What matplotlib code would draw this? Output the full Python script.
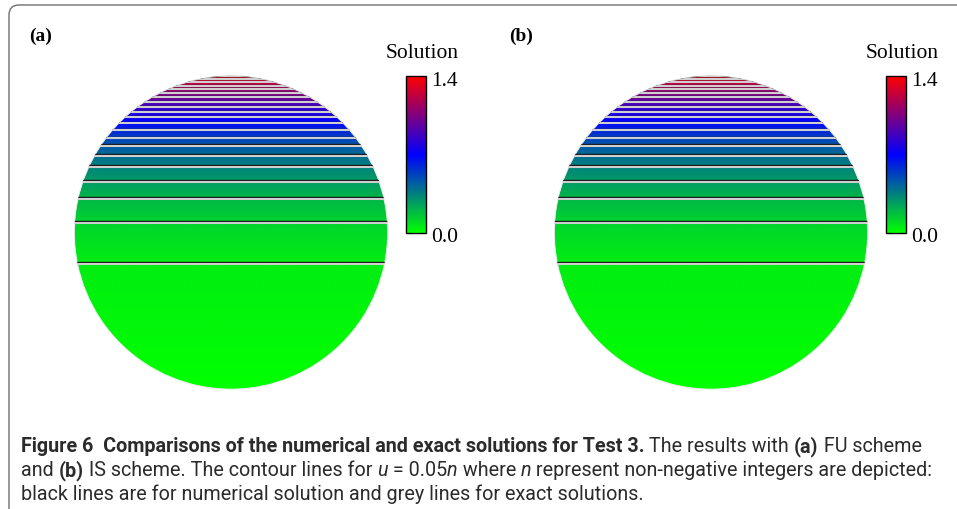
import numpy as np
import matplotlib
matplotlib.use("Agg")
import matplotlib.pyplot as plt
from matplotlib.colors import LinearSegmentedColormap
from matplotlib.patches import Circle, FancyBboxPatch
from matplotlib import font_manager

# ---------------- data ----------------
# Exact-solution profile: the solution depends on height only.
# line_heights: height of each drawn contour (disk-normalised, -1 bottom .. 1 top)
line_heights = [-0.200, 0.060, 0.213, 0.321, 0.416, 0.486, 0.549, 0.600, 0.651, 0.695,
                0.733, 0.765, 0.797, 0.829, 0.860, 0.886, 0.911, 0.932, 0.956, 0.975,
                0.994]
line_values = [0.05, 0.12, 0.20, 0.27, 0.34, 0.40, 0.46, 0.52, 0.60, 0.68,
               0.74, 0.80, 0.86, 0.93, 1.00, 1.06, 1.12, 1.18, 1.24, 1.30,
               1.36]
u_bottom = 0.0      # value at the bottom of the disk
u_top = 1.40        # value at the top of the disk
# numerical (black) contours: how far above the exact (grey) contour each one sits
num_offset = {
    "(a)": [0.012, 0.012, 0.012, 0.011, 0.011, 0.010, 0.010, 0.009, 0.009, 0.008,
            0.008, 0.007, 0.007, 0.006, 0.006, 0.005, 0.005, 0.004, 0.004, 0.004, 0.003],
    "(b)": [0.011, 0.012, 0.012, 0.011, 0.011, 0.010, 0.010, 0.009, 0.009, 0.008,
            0.008, 0.007, 0.007, 0.006, 0.006, 0.005, 0.005, 0.004, 0.004, 0.004, 0.003],
}
panels = ["(a)", "(b)"]
cbar_min, cbar_max = 0.0, 1.4
cbar_labels = ["0.0", "1.4"]
cbar_title = "Solution"

W, H = 957, 509
fig = plt.figure(figsize=(W / 100, H / 100), dpi=100)

def fx(px):
    return px / W

def fy(py):  # py measured from top
    return 1 - py / H

# frame
frame_ax = fig.add_axes([0, 0, 1, 1])
frame_ax.set_xlim(0, W)
frame_ax.set_ylim(H, 0)
frame_ax.axis("off")
frame_ax.add_patch(FancyBboxPatch((9, 5), 1000, 520,
                                  boxstyle="round,pad=0,rounding_size=10",
                                  fc="none", ec="#6e6e6e", lw=1.0))

cmap = LinearSegmentedColormap.from_list(
    "gbr", [(0.0, (0.0, 1.0, 0.0)), (0.5, (0.0, 0.0, 1.0)), (1.0, (1.0, 0.0, 0.0))])

prof_h = np.array([-1.0] + line_heights + [1.0])
prof_u = np.array([u_bottom] + line_values + [u_top])

n = 700
g = np.linspace(-1, 1, n)
X, Y = np.meshgrid(g, g)

serif = "Liberation Serif"

for i, name in enumerate(panels):
    dx = 480 * i
    cx, cy, R = 231 + dx, 232.5, 157.5
    ax = fig.add_axes([fx(cx - R), fy(cy + R), 2 * R / W, 2 * R / H])
    ax.set_xlim(-1, 1)
    ax.set_ylim(-1, 1)
    ax.axis("off")
    U = np.interp(Y, prof_h, prof_u)
    num_h = np.array([-1.0] + [h + o for h, o in zip(line_heights, num_offset[name])] + [1.0])
    Unum = np.interp(Y, num_h, prof_u)
    circ = Circle((0, 0), 0.995, transform=ax.transData, fc="none", ec="none")
    ax.add_patch(circ)
    im = ax.imshow(U, extent=(-1, 1, -1, 1), origin="lower", cmap=cmap,
                   vmin=cbar_min, vmax=cbar_max, interpolation="bilinear")
    im.set_clip_path(circ)
    cs_b = ax.contour(X, Y, Unum, levels=line_values, colors="#151515", linewidths=1.0)
    cs_g = ax.contour(X, Y, U, levels=line_values, colors="#cfcfcf", linewidths=1.5)
    cs_g.set_clip_path(circ)
    cs_b.set_clip_path(circ)
    edge = Circle((0, 0), 0.995, fc="none", ec="#eeeeee", lw=0.8)
    ax.add_patch(edge)

    # panel label
    fig.text(fx(29 + dx), fy(41), name, fontsize=14, fontweight="bold",
             family=serif, ha="left", va="baseline")

    # colorbar
    cax = fig.add_axes([fx(406 + dx), fy(233), 20 / W, 157 / H])
    sm = plt.cm.ScalarMappable(cmap=cmap, norm=plt.Normalize(cbar_min, cbar_max))
    cb = fig.colorbar(sm, cax=cax)
    cb.set_ticks([])
    cb.outline.set_edgecolor("black")
    cb.outline.set_linewidth(1.0)
    fig.text(fx(386 + dx), fy(58), cbar_title, fontsize=15.5, family=serif,
             ha="left", va="baseline")
    fig.text(fx(431 + dx), fy(86), cbar_labels[1], fontsize=15.5, family=serif,
             ha="left", va="baseline")
    fig.text(fx(431 + dx), fy(242), cbar_labels[0], fontsize=15.5, family=serif,
             ha="left", va="baseline")

# ---------------- caption ----------------
def pick(fams):
    for f in fams:
        try:
            font_manager.findfont(f, fallback_to_default=False)
            return f
        except Exception:
            pass
    return "DejaVu Sans"

cap_font = pick(["Liberation Sans Narrow", "Roboto", "Lato"])
cap_col = "#2b2b2b"

lines = [
    [("Figure 6  Comparisons of the numerical and exact solutions for Test 3.", "bold", "normal"),
     (" The results with ", "normal", "normal"), ("(a)", "bold", "normal"),
     (" FU scheme", "normal", "normal")],
    [("and ", "normal", "normal"), ("(b)", "bold", "normal"),
     (" IS scheme. The contour lines for ", "normal", "normal"), ("u", "normal", "italic"),
     (" = 0.05", "normal", "normal"), ("n", "normal", "italic"), (" where ", "normal", "normal"),
     ("n", "normal", "italic"),
     (" represent non-negative integers are depicted:", "normal", "normal")],
    [("black lines are for numerical solution and grey lines for exact solutions.", "normal", "normal")],
]

fig.canvas.draw()
renderer = fig.canvas.get_renderer()

def draw_line(runs, x0, ybase, size, draw=True):
    x = x0
    objs = []
    for txt, wt, st in runs:
        t = fig.text(fx(x), fy(ybase), txt, fontsize=size, fontweight=wt, fontstyle=st,
                     family=cap_font, color=cap_col, ha="left", va="baseline")
        bb = t.get_window_extent(renderer)
        x += bb.width
        objs.append(t)
    if not draw:
        for o in objs:
            o.remove()
    return x - x0

w10 = draw_line(lines[0], 21, 452, 10, draw=False)
size = 10 * 906 / w10
for k, ln in enumerate(lines):
    draw_line(ln, 21, 452 + 24 * k, size)

fig.savefig("out.png", dpi=100)
